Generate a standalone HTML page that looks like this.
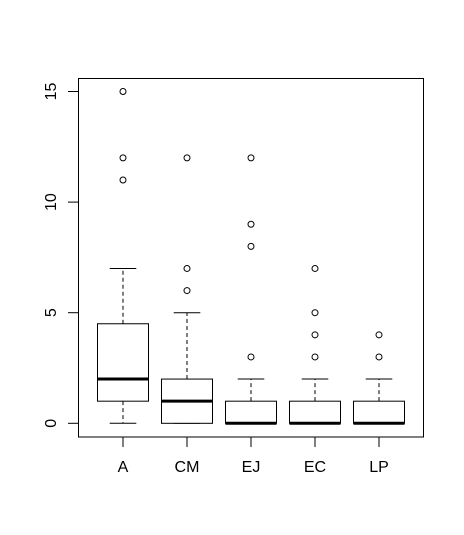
<!DOCTYPE html>
<html><head><meta charset="utf-8"><style>
html,body{margin:0;padding:0;background:#fff;}
svg{display:block;font-family:"Liberation Sans",Arial,sans-serif;}
</style></head><body>
<svg id="chart" width="464" height="535" viewBox="0 0 464 535" xmlns="http://www.w3.org/2000/svg"></svg>
<script>
const categories = ["A","CM","EJ","EC","LP"];
const lowerWhisker = [0,0,0,0,0];
const q1 = [1,0,0,0,0];
const medians = [2,1,0,0,0];
const q3 = [4.5,2,1,1,1];
const upperWhisker = [7,5,2,2,2];
const outliers = [[11,12,15],[6,7,12],[3,8,9,12],[3,4,5,7],[3,4]];
const yTicks = [0,5,10,15];

const svgEl = document.getElementById('chart');
const NS = "http://www.w3.org/2000/svg";
const plotLeft=78.5, plotRight=423.5, plotTop=78.5, plotBottom=437;
function yScale(v){ return 423.3 - v*22.12; }
function xScale(i){ return 123 + i*64; }
function mk(tag, attrs, name){
  const e=document.createElementNS(NS,tag);
  for(const k in attrs) e.setAttribute(k,attrs[k]);
  
  
  svgEl.appendChild(e); return e;
}
mk('rect',{x:plotLeft,y:plotTop,width:plotRight-plotLeft,height:plotBottom-plotTop,fill:'none',stroke:'#000','stroke-width':1},'plot-frame');
yTicks.forEach(t=>{
  const y=yScale(t);
  mk('line',{x1:68,x2:plotLeft,y1:y,y2:y,stroke:'#000'},'y-tick');
  const tx=mk('text',{x:0,y:0,'font-size':16,'text-anchor':'middle',transform:`translate(56,${y}) rotate(-90)`,fill:'#000'},'y-tick-label');
  tx.textContent=t;
});
categories.forEach((c,i)=>{
  const cx=xScale(i), hw=25.5, cw=13.3;
  mk('line',{x1:cx,x2:cx,y1:plotBottom,y2:447,stroke:'#000'},'x-tick');
  const lb=mk('text',{x:cx,y:472,'font-size':16,'text-anchor':'middle',fill:'#000'},'x-tick-label');
  lb.textContent=c;
  mk('line',{x1:cx,x2:cx,y1:yScale(q3[i]),y2:yScale(upperWhisker[i]),stroke:'#000','stroke-dasharray':'4,3'},'upper-whisker');
  mk('line',{x1:cx,x2:cx,y1:yScale(q1[i]),y2:yScale(lowerWhisker[i]),stroke:'#000','stroke-dasharray':'4,3'},'lower-whisker');
  mk('line',{x1:cx-cw,x2:cx+cw,y1:yScale(upperWhisker[i]),y2:yScale(upperWhisker[i]),stroke:'#000'},'upper-whisker-cap');
  mk('line',{x1:cx-cw,x2:cx+cw,y1:yScale(lowerWhisker[i]),y2:yScale(lowerWhisker[i]),stroke:'#000'},'lower-whisker-cap');
  mk('rect',{x:cx-hw,y:yScale(q3[i]),width:2*hw,height:yScale(q1[i])-yScale(q3[i]),fill:'#fff',stroke:'#000'},'box-'+c.toLowerCase());
  mk('line',{x1:cx-hw,x2:cx+hw,y1:yScale(medians[i]),y2:yScale(medians[i]),stroke:'#000','stroke-width':3},'median-'+c.toLowerCase());
  outliers[i].forEach(v=>{
    mk('circle',{cx:cx,cy:yScale(v),r:3,fill:'none',stroke:'#000'},'outlier-point');
  });
});
</script>
</body></html>
